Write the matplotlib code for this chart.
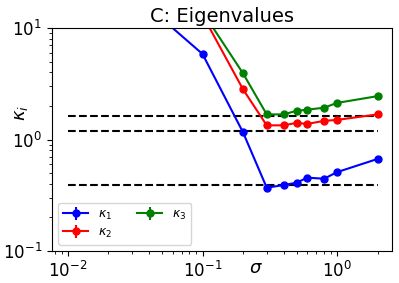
import numpy as np
import matplotlib
matplotlib.use('Agg')
import matplotlib.pyplot as plt

sigma = [0.05, 0.1, 0.2, 0.3, 0.4, 0.5, 0.6, 0.8, 1.0, 2.0]
kappa1 = [12.1, 5.85, 1.16, 0.37, 0.39, 0.41, 0.455, 0.445, 0.51, 0.67]
kappa2 = [30.0, 13.1, 2.82, 1.34, 1.34, 1.41, 1.38, 1.47, 1.50, 1.68]
kappa3 = [30.0, 14.0, 3.92, 1.68, 1.68, 1.81, 1.85, 1.93, 2.13, 2.45]
kappa_err = [0.0] * len(sigma)

# reference levels (dashed)
ref_levels = [1.63, 1.2, 0.39]
ref_range = (0.01, 2.0)


def main():
    fig = plt.figure(figsize=(3.99, 2.83), dpi=100)
    ax = fig.add_axes([0.13, 0.113, 0.852, 0.788])

    for lvl in ref_levels:
        ax.plot(ref_range, [lvl, lvl], 'k--', lw=1.5)

    ax.errorbar(sigma, kappa1, kappa_err, marker='o', ms=5, color='b', label=r'$\kappa_1$')
    ax.errorbar(sigma, kappa2, kappa_err, marker='o', ms=5, color='r', label=r'$\kappa_2$')
    ax.errorbar(sigma, kappa3, kappa_err, marker='o', ms=5, color='g', label=r'$\kappa_3$')

    ax.set_xscale('log')
    ax.set_yscale('log')
    ax.set_xlim(0.0076, 2.55)
    ax.set_ylim(0.1, 10)
    ax.tick_params(labelsize=12)
    ax.set_title('C: Eigenvalues', fontsize=14, pad=4)
    ax.set_xlabel(r'$\sigma$', fontsize=13)
    ax.set_ylabel(r'$\kappa_i$', fontsize=13)
    ax.xaxis.set_label_coords(0.6, -0.035)
    ax.yaxis.set_label_coords(-0.065, 0.62)
    ax.legend(loc='lower left', ncol=2, fontsize=9, labelspacing=0.3)

    fig.savefig('out.png', dpi=100)


if __name__ == '__main__':
    main()
